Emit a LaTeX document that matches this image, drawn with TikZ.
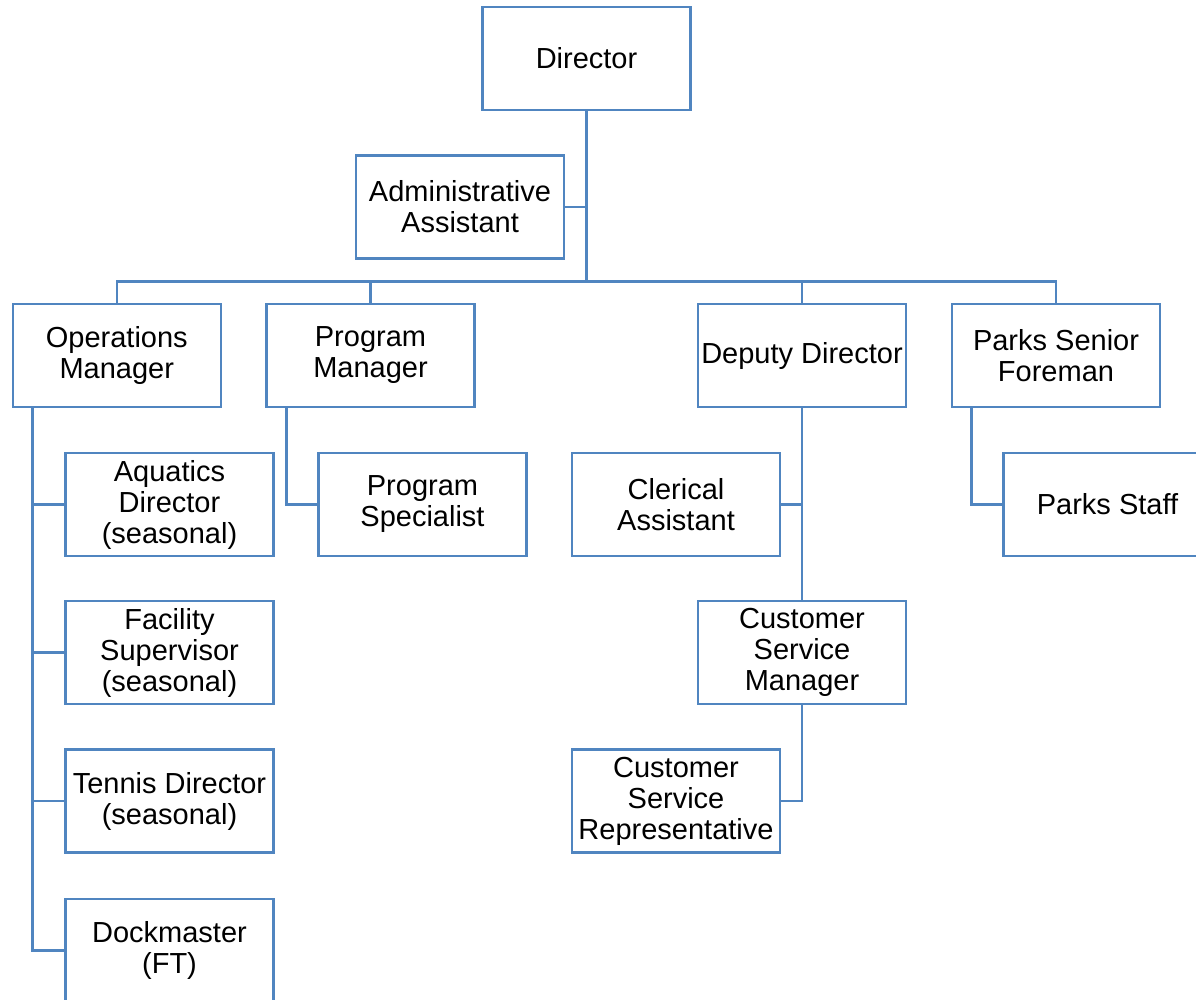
\documentclass[tikz,border=0pt]{standalone}
\usepackage{fontspec}
\setmainfont{Liberation Sans}
\definecolor{boxblue}{RGB}{80,133,192}
\begin{document}
\begin{tikzpicture}[x=1pt,y=-1pt,
  box/.style={draw=boxblue, line width=2.6pt, fill=white, minimum width=208pt, minimum height=103pt,
    inner sep=0pt, align=center, font=\fontsize{29}{31}\selectfont},
  link/.style={draw=boxblue, line width=2.6pt}]
\useasboundingbox (0,0) rectangle (1196,999);
\clip (0,0) rectangle (1196,999);
% nodes
\node[box] (dir) at (586.5,58.5) {Director};
\node[box] (admin) at (460,207) {Administrative\\Assistant};
\node[box] (ops) at (116.8,355.5) {Operations\\Manager};
\node[box] (pm) at (370.5,355.5) {Program\\Manager};
\node[box] (dep) at (802,355.5) {Deputy Director};
\node[box] (psf) at (1056,355.5) {Parks Senior\\Foreman};
\node[box] (aqua) at (169.5,504.5) {Aquatics\\Director\\(seasonal)};
\node[box] (ps) at (422.5,504.5) {Program\\Specialist};
\node[box] (cler) at (676,504.5) {Clerical\\Assistant};
\node[box] (pstaff) at (1107.5,504.5) {Parks Staff};
\node[box] (fac) at (169.5,652.5) {Facility\\Supervisor\\(seasonal)};
\node[box] (csm) at (802,652.5) {Customer\\Service\\Manager};
\node[box] (ten) at (169.5,801) {Tennis Director\\(seasonal)};
\node[box] (csr) at (676,801) {Customer\\Service\\Representative};
\node[box] (dock) at (169.5,950.5) {Dockmaster\\(FT)};
% bus coordinate
\coordinate (bus) at (586.5,281.5);
% connectors
\draw[link] (dir.south) -- (bus);
\draw[link] (admin.east) -- (admin.east -| dir.south);
\draw[link] (ops.north) -- (ops.north |- bus) -- (psf.north |- bus) -- (psf.north);
\draw[link] (pm.north) -- (pm.north |- bus);
\draw[link] (dep.north) -- (dep.north |- bus);
% operations children
\coordinate (opsv) at ([xshift=21pt]ops.south west);
\draw[link] (opsv) |- (dock.west);
\draw[link] (opsv |- aqua.west) -- (aqua.west);
\draw[link] (opsv |- fac.west) -- (fac.west);
\draw[link] (opsv |- ten.west) -- (ten.west);
% program manager
\draw[link] ([xshift=21pt]pm.south west) |- (ps.west);
% deputy
\draw[link] (dep.south) -- (csm.north);
\draw[link] (cler.east) -- (cler.east -| dep.south);
\draw[link] (csm.south) |- (csr.east);
% parks
\draw[link] ([xshift=21pt]psf.south west) |- (pstaff.west);
\end{tikzpicture}
\end{document}
